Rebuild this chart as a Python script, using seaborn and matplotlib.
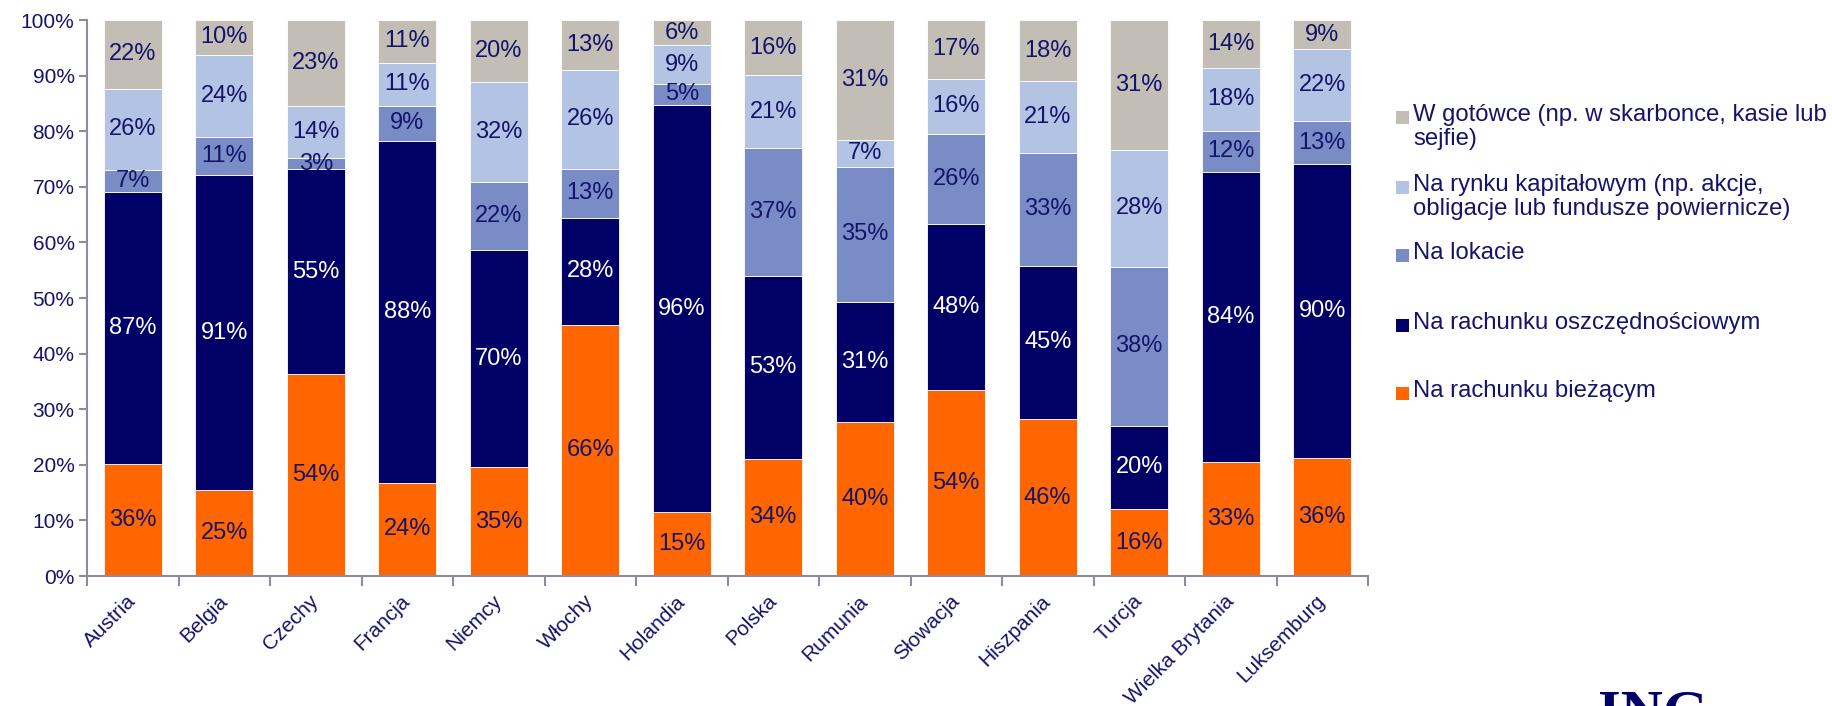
import numpy as np
import pandas as pd
import matplotlib
matplotlib.use("Agg")
import matplotlib.pyplot as plt
import seaborn as sns
from matplotlib.patches import Rectangle
from matplotlib.ticker import FixedLocator

countries = ["Austria", "Belgia", "Czechy", "Francja", "Niemcy", "Włochy", "Holandia",
             "Polska", "Rumunia", "Słowacja", "Hiszpania", "Turcja", "Wielka Brytania", "Luksemburg"]
biezacy = [36, 25, 54, 24, 35, 66, 15, 34, 40, 54, 46, 16, 33, 36]
oszczednosciowy = [87, 91, 55, 88, 70, 28, 96, 53, 31, 48, 45, 20, 84, 90]
lokacie = [7, 11, 3, 9, 22, 13, 5, 37, 35, 26, 33, 38, 12, 13]
rynek = [26, 24, 14, 11, 32, 26, 9, 21, 7, 16, 21, 28, 18, 22]
gotowka = [22, 10, 23, 11, 20, 13, 6, 16, 31, 17, 18, 31, 14, 9]

series_names = ["Na rachunku bieżącym", "Na rachunku oszczędnościowym", "Na lokacie",
                "Na rynku kapitałowym (np. akcje,\nobligacje lub fundusze powiernicze)",
                "W gotówce (np. w skarbonce, kasie lub\nsejfie)"]
series_vals = [biezacy, oszczednosciowy, lokacie, rynek, gotowka]
colors = ["#FF6600", "#000066", "#7A8CC6", "#B3C3E3", "#C2BEB6"]
label_colors = ["#14146A", "white", "#14146A", "#14146A", "#14146A"]
NAVY = "#14146A"
AXC = "#8C8CA0"

sns.set_theme(style="white")
plt.rcParams["font.family"] = ["Liberation Sans", "DejaVu Sans"]

fig = plt.figure(figsize=(18.32, 7.06), dpi=100)
ax = fig.add_axes([87 / 1832, 1 - 576 / 706, (1368 - 87) / 1832, (576 - 20) / 706])

data = np.array(series_vals, dtype=float)
totals = data.sum(axis=0)
norm = data / totals * 100.0

bottom = np.zeros(len(countries))
for i, name in enumerate(series_names):
    df = pd.DataFrame({"kraj": countries, "v": norm[i]})
    sns.barplot(data=df, x="kraj", y="v", order=countries, color=colors[i],
                width=0.636, bottom=bottom.copy(), ax=ax, edgecolor="white",
                linewidth=0.6, saturation=1.0, errorbar=None)
    for j in range(len(countries)):
        yc = bottom[j] + norm[i][j] / 2
        ax.text(j, yc, f"{series_vals[i][j]}%", ha="center", va="center",
                fontsize=17, color=label_colors[i])
    bottom += norm[i]

ax.set_xlim(-0.5, len(countries) - 0.5)
ax.set_ylim(0, 100)
ax.set_xlabel("")
ax.set_ylabel("")
ax.set_yticks(np.arange(0, 101, 10))
ax.set_yticklabels([f"{v}%" for v in range(0, 101, 10)], fontsize=15, color=NAVY)
ax.set_xticks(range(len(countries)))
ax.set_xticklabels(countries, rotation=45, ha="right", va="center", rotation_mode="anchor",
                   fontsize=15, color=NAVY)
ax.xaxis.set_minor_locator(FixedLocator(np.arange(-0.5, len(countries), 1.0)))
ax.tick_params(axis="x", which="major", length=0, pad=16)
ax.tick_params(axis="x", which="minor", length=7, width=1.5, color=AXC, bottom=True)
ax.tick_params(axis="y", which="major", length=6, width=1.5, color=AXC, left=True, pad=3)
for s in ["top", "right"]:
    ax.spines[s].set_visible(False)
for s in ["left", "bottom"]:
    ax.spines[s].set_color(AXC)
    ax.spines[s].set_linewidth(1.5)

# legend (top to bottom: reversed series order)
leg_y = [117, 187, 255, 325, 393]
order = [4, 3, 2, 1, 0]
for y, k in zip(leg_y, order):
    fig.patches.append(Rectangle((1396 / 1832, 1 - (y + 7) / 706), 13 / 1832, 13 / 706,
                                 transform=fig.transFigure, facecolor=colors[k],
                                 edgecolor="none"))
    fig.text(1413 / 1832, 1 - (y - 13) / 706, series_names[k], ha="left", va="top",
             fontsize=17.2, color=NAVY, linespacing=1.1)

# logo text
fig.text(1598 / 1832, 1 - 690 / 706, "ING", ha="left", va="top", fontsize=42,
         fontweight="bold", family=["Liberation Serif", "DejaVu Serif"], color="#000066")

fig.savefig("out.png", dpi=100, facecolor="white")
